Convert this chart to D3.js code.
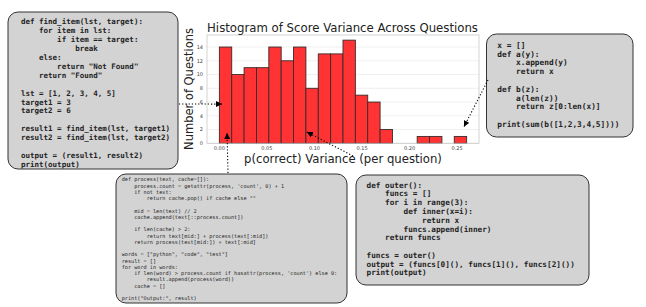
<!DOCTYPE html>
<html>
<head>
<meta charset="utf-8">
<script src="https://cdn.jsdelivr.net/npm/d3@7"></script>
<style>
  body { margin: 0; background: #fff; }
  svg { display: block; }
</style>
</head>
<body>
<svg id="chart" width="646" height="307"></svg>
<script>
//*************************************************
// Data
//*************************************************
var binCounts = [14, 10, 11, 11, 14, 12, 14, 8, 13, 13, 15, 7, 6, 2, 0, 0, 1, 1, 0, 1];
var binStart = 0.0;
var binWidth = 0.013;
var xTicks = [0.00, 0.05, 0.10, 0.15, 0.20, 0.25];
var yTicks = [0, 2, 4, 6, 8, 10, 12, 14];

var code1 = [
  'def find_item(lst, target):',
  '    for item in lst:',
  '        if item == target:',
  '            break',
  '    else:',
  '        return "Not Found"',
  '    return "Found"',
  '',
  'lst = [1, 2, 3, 4, 5]',
  'target1 = 3',
  'target2 = 6',
  '',
  'result1 = find_item(lst, target1)',
  'result2 = find_item(lst, target2)',
  '',
  'output = (result1, result2)',
  'print(output)'
];
var code2 = [
  'x = []',
  'def a(y):',
  '    x.append(y)',
  '    return x',
  '',
  'def b(z):',
  '    a(len(z))',
  '    return z[0:len(x)]',
  '',
  'print(sum(b([1,2,3,4,5])))'
];
var code3 = [
  'def process(text, cache=[]):',
  '    process.count = getattr(process, \'count\', 0) + 1',
  '    if not text:',
  '        return cache.pop() if cache else ""',
  '',
  '    mid = len(text) // 2',
  '    cache.append(text[::process.count])',
  '',
  '    if len(cache) > 2:',
  '        return text[mid:] + process(text[:mid])',
  '    return process(text[mid:]) + text[:mid]',
  '',
  'words = ["python", "code", "test"]',
  'result = []',
  'for word in words:',
  '    if len(word) > process.count if hasattr(process, \'count\') else 0:',
  '        result.append(process(word))',
  '    cache = []',
  '',
  'print("Output:", result)'
];
var code4 = [
  'def outer():',
  '    funcs = []',
  '    for i in range(3):',
  '        def inner(x=i):',
  '            return x',
  '        funcs.append(inner)',
  '    return funcs',
  '',
  'funcs = outer()',
  'output = (funcs[0](), funcs[1](), funcs[2]())',
  'print(output)'
];

//*************************************************
// Layout
//*************************************************
var plot = { left: 207, right: 479, top: 35, bottom: 143.3 };

var svg = d3.select('#chart');

var x = d3.scaleLinear().domain([-0.013, 0.273]).range([plot.left, plot.right]);
var y = d3.scaleLinear().domain([0, 15.75]).range([plot.bottom, plot.top]);

// grid
svg.append('g').selectAll('line').data(yTicks).enter().append('line')
  .attr('x1', plot.left).attr('x2', plot.right)
  .attr('y1', function (d) { return y(d); }).attr('y2', function (d) { return y(d); })
  .attr('stroke', '#ebebeb').attr('stroke-width', 0.8);

// bars
svg.append('g').selectAll('rect').data(binCounts).enter().append('rect')
  .attr('x', function (d, i) { return x(binStart + i * binWidth); })
  .attr('width', function (d, i) { return x(binStart + (i + 1) * binWidth) - x(binStart + i * binWidth); })
  .attr('y', function (d) { return y(d); })
  .attr('height', function (d) { return y(0) - y(d); })
  .attr('fill', '#ff3333')
  .attr('stroke', '#3a2a2a')
  .attr('stroke-width', 0.9)
  .style('display', function (d) { return d > 0 ? null : 'none'; });

// frame
svg.append('rect')
  .attr('x', plot.left).attr('y', plot.top)
  .attr('width', plot.right - plot.left).attr('height', plot.bottom - plot.top)
  .attr('fill', 'none').attr('stroke', '#c8c8c8').attr('stroke-width', 0.8);

// tick labels
svg.append('g').selectAll('text').data(xTicks).enter().append('text')
  .attr('x', function (d) { return x(d); })
  .attr('y', plot.bottom + 6.5)
  .attr('text-anchor', 'middle')
  .attr('font-family', 'DejaVu Sans').attr('font-size', 5).attr('fill', '#444')
  .text(function (d) { return d.toFixed(2); });

svg.append('g').selectAll('text').data(yTicks).enter().append('text')
  .attr('x', plot.left - 4)
  .attr('y', function (d) { return y(d) + 1.8; })
  .attr('text-anchor', 'end')
  .attr('font-family', 'DejaVu Sans').attr('font-size', 5).attr('fill', '#444')
  .text(function (d) { return d; });

// fit text to a target width
function fitText(sel, target) {
  var w = sel.node().getComputedTextLength();
  var fs = parseFloat(sel.attr('font-size'));
  sel.attr('font-size', fs * target / w);
}

var title = svg.append('text')
  .attr('x', 342.5).attr('y', 31.5).attr('text-anchor', 'middle')
  .attr('font-family', 'DejaVu Sans').attr('font-size', 12).attr('fill', '#222')
  .text('Histogram of Score Variance Across Questions');
fitText(title, 271);

var xLabel = svg.append('text')
  .attr('x', 343).attr('y', 163.3).attr('text-anchor', 'middle')
  .attr('font-family', 'DejaVu Sans').attr('font-size', 12).attr('fill', '#222')
  .text('p(correct) Variance (per question)');
fitText(xLabel, 198);

var yLabel = svg.append('text')
  .attr('transform', 'translate(192.5,89) rotate(-90)').attr('text-anchor', 'middle')
  .attr('font-family', 'DejaVu Sans').attr('font-size', 12).attr('fill', '#222')
  .text('Number of Questions');
fitText(yLabel, 122);

//*************************************************
// Code boxes
//*************************************************
var boxes = [
  { lines: code1, x: 8, y: 12, w: 170, h: 157, tx: 21, ty: 24.4, pitch: 8.9, fs: 7.5, weight: 'bold' },
  { lines: code2, x: 486.5, y: 34, w: 146.5, h: 103, tx: 497.3, ty: 47.7, pitch: 8.8, fs: 7.8, weight: 'bold' },
  { lines: code3, x: 116, y: 174, w: 231, h: 129, tx: 121.7, ty: 181.3, pitch: 6.26, fs: 5.2, weight: 'normal' },
  { lines: code4, x: 356, y: 175, w: 233, h: 110, tx: 366.5, ty: 187.7, pitch: 8.77, fs: 7.7, weight: 'bold' }
];

// keep the indentation: SVG collapses plain spaces
function keepSpaces(s) {
  return s.replace(/ /g, '\u00a0');
}

boxes.forEach(function (b) {
  var g = svg.append('g');
  g.append('rect')
    .attr('x', b.x).attr('y', b.y).attr('width', b.w).attr('height', b.h)
    .attr('rx', 10).attr('ry', 10)
    .attr('fill', '#d3d3d3').attr('stroke', '#333').attr('stroke-width', 1);
  g.selectAll('text').data(b.lines).enter().append('text')
    .attr('x', b.tx)
    .attr('y', function (d, i) { return b.ty + i * b.pitch; })
    .attr('font-family', 'DejaVu Sans Mono')
    .attr('font-size', b.fs)
    .attr('font-weight', b.weight)
    .attr('fill', '#222')
    .text(function (d) { return keepSpaces(d); });
});

//*************************************************
// Arrows (tips in data coords, tails at the boxes)
//*************************************************
var arrows = [
  { from: [179, 104], to: [0.0028, 5.7] },
  { from: [228, 173], to: [0.0081, 1.5] },
  { from: [353, 156], to: [0.092, 1.64] },
  { from: [488, 80], to: [0.2572, 2.4] }
];

svg.append('defs').append('marker')
  .attr('id', 'head')
  .attr('viewBox', '0 0 10 10')
  .attr('refX', 10).attr('refY', 5)
  .attr('markerWidth', 6).attr('markerHeight', 6)
  .attr('markerUnits', 'userSpaceOnUse')
  .attr('orient', 'auto')
  .append('path').attr('d', 'M0,0 L10,5 L0,10 Z').attr('fill', '#000');

svg.append('g').selectAll('line').data(arrows).enter().append('line')
  .attr('x1', function (d) { return d.from[0]; })
  .attr('y1', function (d) { return d.from[1]; })
  .attr('x2', function (d) { return x(d.to[0]); })
  .attr('y2', function (d) { return y(d.to[1]); })
  .attr('stroke', '#000').attr('stroke-width', 1.1)
  .attr('stroke-dasharray', '1.2,2')
  .attr('marker-end', 'url(#head)');
</script>
</body>
</html>
